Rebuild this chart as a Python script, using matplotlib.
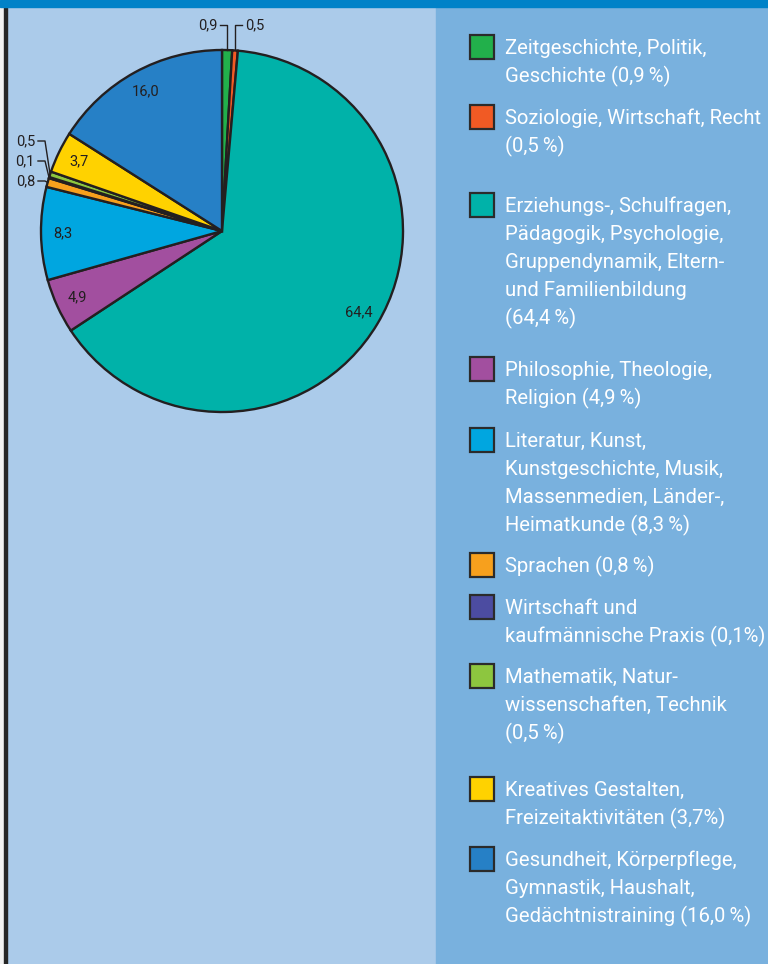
import numpy as np
import matplotlib.pyplot as plt
from matplotlib.patches import Rectangle

plt.rcParams['font.family'] = ['Roboto', 'DejaVu Sans']

# Anteile in Prozent, im Uhrzeigersinn ab 12 Uhr
shares = [0.9, 0.5, 64.4, 4.9, 8.3, 0.8, 0.1, 0.5, 3.7, 16.0]
colors = ['#22b04b', '#f15a24', '#00b2a9', '#a24f9f', '#00a6e0',
          '#f7a01d', '#4c4ca1', '#8dc63f', '#ffd200', '#2680c6']
legend_labels = [
    'Zeitgeschichte, Politik,\nGeschichte ({p}\u2009%)',
    'Soziologie, Wirtschaft, Recht\n({p}\u2009%)',
    'Erziehungs-, Schulfragen,\nPädagogik, Psychologie,\nGruppendynamik, Eltern-\nund Familienbildung\n({p}\u2009%)',
    'Philosophie, Theologie,\nReligion ({p}\u2009%)',
    'Literatur, Kunst,\nKunstgeschichte, Musik,\nMassenmedien, Länder-,\nHeimatkunde ({p}\u2009%)',
    'Sprachen ({p}\u2009%)',
    'Wirtschaft und\nkaufmännische Praxis ({p}%)',
    'Mathematik, Natur-\nwissenschaften, Technik\n({p}\u2009%)',
    'Kreatives Gestalten,\nFreizeitaktivitäten ({p}%)',
    'Gesundheit, Körperpflege,\nGymnastik, Haushalt,\nGedächtnistraining ({p}\u2009%)',
]
top_labels = [0, 1]       # kleine Anteile, Beschriftung oben
left_labels = [7, 6, 5]   # kleine Anteile, Beschriftung links

# Layout in Pixeln
W, H = 768, 964
legend_y = [47, 117, 205, 369, 440, 565, 607, 676, 789, 859]
line_step = 28
ink = '#231f20'


def fmt(v):
    return f'{v:.1f}'.replace('.', ',')


fig = plt.figure(figsize=(W / 100, H / 100), dpi=100)
ax = fig.add_axes([0, 0, 1, 1])

# Hintergrundflächen
ax.add_patch(Rectangle((0, 0), 436, H, color='#abcbea', zorder=0))
ax.add_patch(Rectangle((436, 0), W - 436, H, color='#79b1de', zorder=0))
ax.add_patch(Rectangle((0, 0), 4, H, color='#f2f2f2', zorder=0))
ax.add_patch(Rectangle((4, 0), 3, H, color='#262626', zorder=0.5))
ax.add_patch(Rectangle((0, H - 7), W, 7, color='#0082c8', zorder=0.6))

cx, cy, R = 222, H - 231, 181
wedges, _ = ax.pie(shares, colors=colors, startangle=90, counterclock=False,
                   center=(cx, cy), radius=R,
                   wedgeprops=dict(edgecolor=ink, linewidth=1.7))
ax.set_xlim(0, W)
ax.set_ylim(0, H)
ax.axis('off')

small = set(top_labels) | set(left_labels)
for i, w in enumerate(wedges):
    mid = np.deg2rad((w.theta1 + w.theta2) / 2)
    if i not in small:
        ax.text(cx + 0.88 * R * np.cos(mid), cy + 0.88 * R * np.sin(mid),
                fmt(shares[i]), ha='center', va='center', fontsize=10.5, color=ink)

# Beschriftungen oben mit Führungslinien
y_top = H - 25
for k, i in enumerate(top_labels):
    mid = np.deg2rad((wedges[i].theta1 + wedges[i].theta2) / 2)
    ax_x = cx + R * np.cos(mid)
    ax_y = cy + R * np.sin(mid)
    d = -1 if k == 0 else 1
    ax.plot([ax_x, ax_x, ax_x + d * 7], [ax_y, y_top, y_top], color=ink, lw=1)
    ax.text(ax_x + d * 10, y_top, fmt(shares[i]), ha='left' if d > 0 else 'right',
            va='center', fontsize=10.5, color=ink)

# Beschriftungen links
for k, i in enumerate(left_labels):
    mid = np.deg2rad((wedges[i].theta1 + wedges[i].theta2) / 2)
    ax_x = cx + R * np.cos(mid)
    ax_y = cy + R * np.sin(mid)
    ly = H - (141 + 20 * k)
    ax.plot([38, 45, ax_x], [ly, ly, ax_y], color=ink, lw=1)
    ax.text(35, ly, fmt(shares[i]), ha='right', va='center', fontsize=10.5, color=ink)

# Legende
for i, lab in enumerate(legend_labels):
    y0 = H - legend_y[i]
    ax.add_patch(Rectangle((470, y0 - 12), 24, 24, facecolor=colors[i],
                           edgecolor='#2b2b2b', linewidth=1.6, zorder=3))
    for j, line in enumerate(lab.format(p=fmt(shares[i])).split('\n')):
        ax.text(505, y0 - j * line_step - 7, line, ha='left', va='baseline',
                fontsize=14.6, color='white')

fig.savefig('out.png', dpi=100)
